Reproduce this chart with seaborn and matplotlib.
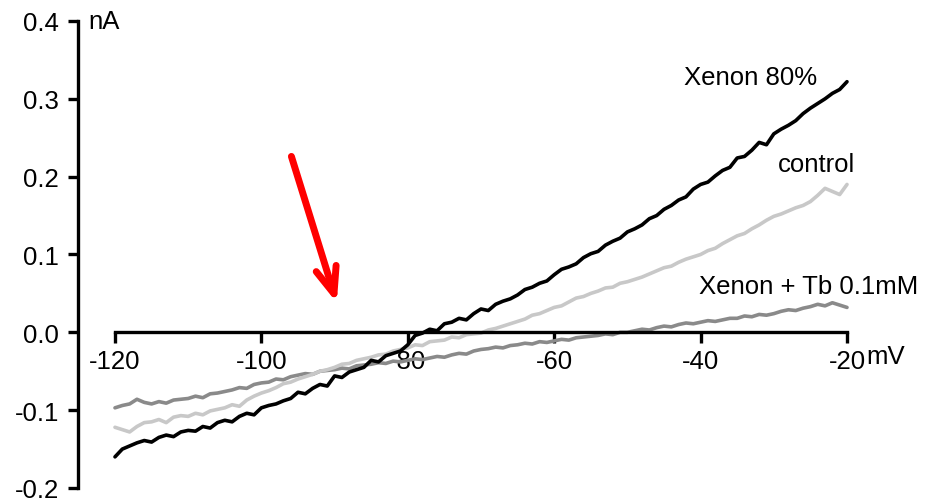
import numpy as np
import pandas as pd
import matplotlib
matplotlib.use("Agg")
import matplotlib.pyplot as plt
import seaborn as sns

# ------------------------------
# data (1 mV steps)
# ------------------------------
voltage = list(range(-120, -19))  # mV

xenon_80 = [
    -0.160, -0.150, -0.146, -0.142, -0.139,
    -0.141, -0.135, -0.132, -0.134, -0.128,
    -0.126, -0.127, -0.121, -0.123, -0.116,
    -0.113, -0.115, -0.108, -0.104, -0.106,
    -0.097, -0.094, -0.092, -0.088, -0.085,
    -0.077, -0.079, -0.072, -0.067, -0.069,
    -0.056, -0.058, -0.051, -0.048, -0.045,
    -0.036, -0.038, -0.030, -0.027, -0.024,
    -0.016, -0.004, -0.001, 0.004, 0.002,
    0.011, 0.013, 0.018, 0.016, 0.024,
    0.030, 0.028, 0.036, 0.040, 0.043,
    0.048, 0.055, 0.058, 0.063, 0.066,
    0.074, 0.081, 0.084, 0.088, 0.096,
    0.101, 0.104, 0.112, 0.117, 0.121,
    0.129, 0.133, 0.138, 0.146, 0.150,
    0.158, 0.163, 0.170, 0.174, 0.184,
    0.190, 0.193, 0.201, 0.208, 0.212,
    0.224, 0.226, 0.234, 0.244, 0.241,
    0.255, 0.261, 0.266, 0.272, 0.281,
    0.288, 0.294, 0.300, 0.307, 0.312,
    0.322,
]

control = [
    -0.122, -0.125, -0.128, -0.121, -0.116,
    -0.115, -0.112, -0.116, -0.109, -0.107,
    -0.108, -0.104, -0.106, -0.101, -0.099,
    -0.097, -0.093, -0.095, -0.087, -0.082,
    -0.078, -0.075, -0.071, -0.066, -0.064,
    -0.060, -0.057, -0.054, -0.050, -0.048,
    -0.045, -0.041, -0.040, -0.036, -0.034,
    -0.032, -0.029, -0.028, -0.024, -0.022,
    -0.020, -0.016, -0.017, -0.012, -0.011,
    -0.010, -0.006, -0.007, -0.003, -0.002,
    -0.001, 0.003, 0.005, 0.008, 0.011,
    0.014, 0.017, 0.022, 0.024, 0.028,
    0.032, 0.034, 0.039, 0.044, 0.046,
    0.050, 0.053, 0.057, 0.058, 0.063,
    0.065, 0.068, 0.071, 0.075, 0.079,
    0.083, 0.085, 0.090, 0.094, 0.097,
    0.100, 0.105, 0.108, 0.114, 0.119,
    0.124, 0.127, 0.133, 0.138, 0.144,
    0.149, 0.152, 0.156, 0.160, 0.163,
    0.168, 0.176, 0.185, 0.181, 0.177,
    0.190,
]

xenon_tb = [
    -0.097, -0.094, -0.092, -0.086, -0.090,
    -0.092, -0.089, -0.091, -0.087, -0.086,
    -0.085, -0.082, -0.084, -0.079, -0.078,
    -0.076, -0.074, -0.071, -0.072, -0.067,
    -0.065, -0.064, -0.060, -0.061, -0.057,
    -0.055, -0.053, -0.054, -0.050, -0.049,
    -0.048, -0.046, -0.047, -0.043, -0.042,
    -0.041, -0.039, -0.040, -0.037, -0.038,
    -0.036, -0.034, -0.035, -0.033, -0.031,
    -0.032, -0.029, -0.027, -0.028, -0.024,
    -0.022, -0.021, -0.019, -0.020, -0.017,
    -0.016, -0.014, -0.015, -0.012, -0.013,
    -0.011, -0.009, -0.010, -0.007, -0.006,
    -0.005, -0.004, -0.002, -0.003, 0.000,
    0.000, 0.002, 0.004, 0.003, 0.006,
    0.008, 0.007, 0.010, 0.012, 0.011,
    0.013, 0.015, 0.014, 0.016, 0.018,
    0.018, 0.021, 0.020, 0.023, 0.022,
    0.024, 0.027, 0.029, 0.028, 0.031,
    0.033, 0.036, 0.034, 0.038, 0.035,
    0.032,
]

series_names = ["Xenon + Tb 0.1mM", "control", "Xenon 80%"]
series_colors = ["#8a8a8a", "#c8c8c8", "#000000"]
y_ticks = [-0.2, -0.1, 0.0, 0.1, 0.2, 0.3, 0.4]
x_ticks = [-120, -100, -80, -60, -40, -20]

df = pd.concat([
    pd.DataFrame({"mV": voltage, "nA": xenon_tb, "trace": series_names[0]}),
    pd.DataFrame({"mV": voltage, "nA": control, "trace": series_names[1]}),
    pd.DataFrame({"mV": voltage, "nA": xenon_80, "trace": series_names[2]}),
])

# ------------------------------
# style
# ------------------------------
sns.set_style("ticks")
plt.rcParams["font.family"] = ["Liberation Sans", "DejaVu Sans"]
plt.rcParams["axes.unicode_minus"] = False
plt.rcParams["text.color"] = "black"

fig = plt.figure(figsize=(9.41, 5.02), dpi=100)
ax = fig.add_axes([0.0833, 0.0259, 0.8946, 0.9303])

sns.lineplot(data=df, x="mV", y="nA", hue="trace", hue_order=series_names,
             palette=series_colors, linewidth=2.6, legend=False, ax=ax)

ax.set_xlim(-125, -10)
ax.set_ylim(-0.2, 0.4)

# axes: y on the left, x crossing at 0 nA
ax.spines["top"].set_visible(False)
ax.spines["right"].set_visible(False)
for side in ["left", "bottom"]:
    ax.spines[side].set_linewidth(2.4)
    ax.spines[side].set_color("black")
ax.spines["bottom"].set_position(("data", 0))
ax.spines["bottom"].set_bounds(-120, -20)
ax.spines["left"].set_bounds(-0.2, 0.4)

ax.set_yticks(y_ticks)
ax.set_yticklabels([f"{v:.1f}" for v in y_ticks])
ax.set_xticks(x_ticks)
ax.set_xticklabels([str(v) for v in x_ticks])
ax.tick_params(axis="both", direction="out", width=2.4, labelsize=18.5,
               colors="black", labelcolor="black")
ax.tick_params(axis="y", length=7, pad=7)
ax.tick_params(axis="x", length=8, pad=4)
ax.set_xlabel("")
ax.set_ylabel("")

# unit labels
ax.text(-123.6, 0.4, "nA", fontsize=18.5, color="black", ha="left", va="center")
ax.text(-17.4, -0.031, "mV", fontsize=18.5, color="black", ha="left", va="center")

# trace labels
ax.text(-42.2, 0.328, "Xenon 80%", fontsize=18.5, color="black", ha="left", va="center")
ax.text(-29.5, 0.216, "control", fontsize=18.5, color="black", ha="left", va="center")
ax.text(-40.2, 0.059, "Xenon + Tb 0.1mM", fontsize=18.5, color="black",
        ha="left", va="center")

# red arrow
ax.annotate("", xy=(-89.7, 0.038), xytext=(-95.9, 0.226),
            arrowprops=dict(arrowstyle="->,head_length=1.9,head_width=0.75",
                            color="red", lw=5, capstyle="round",
                            joinstyle="round", shrinkA=0, shrinkB=0))

fig.savefig("out.png", dpi=100)
